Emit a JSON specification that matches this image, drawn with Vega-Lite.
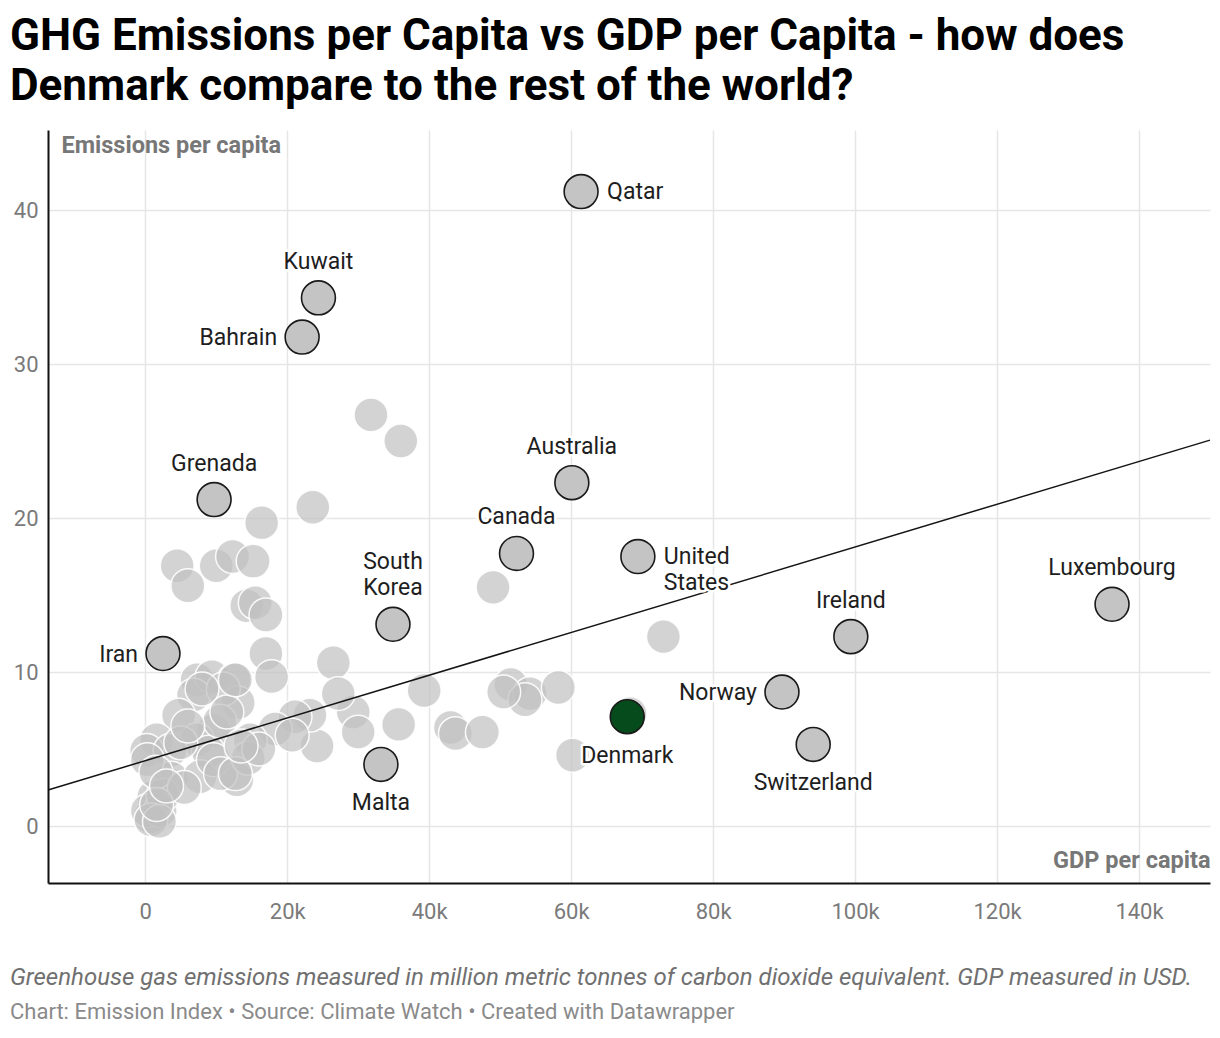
{
  "$schema": "https://vega.github.io/schema/vega-lite/v6.json",
  "background": "white",
  "padding": {"left": 10, "top": 15, "right": 10, "bottom": 0},
  "title": {
    "text": ["GHG Emissions per Capita vs GDP per Capita - how does", "Denmark compare to the rest of the world?"],
    "anchor": "start",
    "font": "Roboto",
    "fontSize": 44,
    "fontWeight": "bold",
    "color": "#000000",
    "lineHeight": 50,
    "offset": 21
  },
  "datasets": {
    "points": [
      {"country": "Qatar", "gdp": 61400, "em": 41.2},
      {"country": "Kuwait", "gdp": 24400, "em": 34.3},
      {"country": "Bahrain", "gdp": 22100, "em": 31.75},
      {"country": "Grenada", "gdp": 9700, "em": 21.2},
      {"country": "Australia", "gdp": 60100, "em": 22.3},
      {"country": "Canada", "gdp": 52300, "em": 17.7},
      {"country": "United\nStates", "gdp": 69400, "em": 17.5},
      {"country": "South\nKorea", "gdp": 34900, "em": 13.1},
      {"country": "Iran", "gdp": 2500, "em": 11.2},
      {"country": "Luxembourg", "gdp": 136200, "em": 14.4},
      {"country": "Ireland", "gdp": 99400, "em": 12.3},
      {"country": "Norway", "gdp": 89700, "em": 8.7},
      {"country": "Switzerland", "gdp": 94100, "em": 5.3},
      {"country": "Denmark", "gdp": 67900, "em": 7.1},
      {"country": "Malta", "gdp": 33200, "em": 4.0},
      {"gdp": 31800, "em": 26.7},
      {"gdp": 36000, "em": 25.0},
      {"gdp": 23600, "em": 20.7},
      {"gdp": 16400, "em": 19.7},
      {"gdp": 4500, "em": 16.9},
      {"gdp": 6000, "em": 15.6},
      {"gdp": 10000, "em": 16.9},
      {"gdp": 12300, "em": 17.5},
      {"gdp": 15200, "em": 17.2},
      {"gdp": 14300, "em": 14.3},
      {"gdp": 15500, "em": 14.5},
      {"gdp": 17000, "em": 13.7},
      {"gdp": 17000, "em": 11.2},
      {"gdp": 17800, "em": 9.7},
      {"gdp": 26500, "em": 10.6},
      {"gdp": 49000, "em": 15.5},
      {"gdp": 73000, "em": 12.3},
      {"gdp": 39300, "em": 8.8},
      {"gdp": 51500, "em": 9.2},
      {"gdp": 54200, "em": 8.6},
      {"gdp": 53500, "em": 8.2},
      {"gdp": 58200, "em": 9.0},
      {"gdp": 50500, "em": 8.7},
      {"gdp": 43000, "em": 6.4},
      {"gdp": 43700, "em": 6.0},
      {"gdp": 47500, "em": 6.1},
      {"gdp": 60200, "em": 4.6},
      {"gdp": 68300, "em": 7.3},
      {"gdp": 35700, "em": 6.6},
      {"gdp": 29300, "em": 7.4},
      {"gdp": 27200, "em": 8.6},
      {"gdp": 30000, "em": 6.1},
      {"gdp": 24200, "em": 5.2},
      {"gdp": 23200, "em": 7.2},
      {"gdp": 21100, "em": 7.1},
      {"gdp": 18300, "em": 6.3},
      {"gdp": 20700, "em": 5.9},
      {"gdp": 7300, "em": 9.5},
      {"gdp": 9400, "em": 9.7},
      {"gdp": 12500, "em": 9.5},
      {"gdp": 6800, "em": 8.5},
      {"gdp": 13100, "em": 8.0},
      {"gdp": 4700, "em": 7.2},
      {"gdp": 9600, "em": 6.2},
      {"gdp": 7300, "em": 5.6},
      {"gdp": 1600, "em": 5.6},
      {"gdp": 200, "em": 4.9},
      {"gdp": 3500, "em": 4.9},
      {"gdp": 14800, "em": 5.6},
      {"gdp": 8900, "em": 4.8},
      {"gdp": 3700, "em": 3.1},
      {"gdp": 7700, "em": 3.2},
      {"gdp": 12900, "em": 3.0},
      {"gdp": 1200, "em": 1.9},
      {"gdp": 700, "em": 0.6},
      {"gdp": 300, "em": 1.0},
      {"gdp": 2100, "em": 1.0},
      {"gdp": 9600, "em": 4.3},
      {"gdp": 10600, "em": 3.4},
      {"gdp": 300, "em": 4.3},
      {"gdp": 14500, "em": 4.4},
      {"gdp": 12700, "em": 3.4},
      {"gdp": 5000, "em": 5.4},
      {"gdp": 11000, "em": 8.9},
      {"gdp": 8000, "em": 8.9},
      {"gdp": 10500, "em": 6.8},
      {"gdp": 2500, "em": 2.0},
      {"gdp": 1500, "em": 3.5},
      {"gdp": 5500, "em": 2.5},
      {"gdp": 11500, "em": 7.4},
      {"gdp": 6000, "em": 6.5},
      {"gdp": 16000, "em": 5.0},
      {"gdp": 13500, "em": 5.2},
      {"gdp": 800, "em": 0.4},
      {"gdp": 2000, "em": 0.3},
      {"gdp": 1600, "em": 1.4},
      {"gdp": 3000, "em": 2.6},
      {"gdp": 12700, "em": 9.5}
    ],
    "trend": [
      {"gdp": -13700, "em": 2.34},
      {"gdp": 150000, "em": 25.06}
    ]
  },
  "vconcat": [
    {
      "width": 1162,
      "height": 753,
      "title": {
        "text": "Greenhouse gas emissions measured in million metric tonnes of carbon dioxide equivalent. GDP measured in USD.",
        "subtitle": "Chart: Emission Index • Source: Climate Watch • Created with Datawrapper",
        "orient": "bottom",
        "anchor": "start",
        "font": "Roboto",
        "fontSize": 24,
        "fontStyle": "italic",
        "fontWeight": "normal",
        "color": "#707070",
        "subtitleFont": "Roboto",
        "subtitleFontSize": 22,
        "subtitleColor": "#8a8a8a",
        "subtitlePadding": 12,
        "offset": 44
      },
      "data": {"name": "points"},
      "encoding": {
        "x": {
          "field": "gdp",
          "type": "quantitative",
          "scale": {"domain": [-13700, 150000], "nice": false, "zero": false},
          "axis": {
            "title": "GDP per capita",
            "values": [0, 20000, 40000, 60000, 80000, 100000, 120000, 140000],
            "labelExpr": "datum.value == 0 ? '0' : (datum.value / 1000) + 'k'",
            "titleAngle": 0,
            "titleAlign": "right",
            "titleBaseline": "alphabetic",
            "titleX": 1162,
            "titleY": -16
          }
        },
        "y": {
          "field": "em",
          "type": "quantitative",
          "scale": {"domain": [-3.7, 45.2], "nice": false, "zero": false},
          "axis": {
            "title": "Emissions per capita",
            "values": [0, 10, 20, 30, 40],
            "titleAngle": 0,
            "titleAlign": "left",
            "titleBaseline": "alphabetic",
            "titleX": 13,
            "titleY": 22,
            "minExtent": 38,
            "maxExtent": 38
          }
        }
      },
      "layer": [
        {
          "transform": [{"filter": "!isValid(datum.country)"}],
          "mark": {"type": "circle", "size": 1150, "fill": "#c0c0c0", "fillOpacity": 0.7, "stroke": "#ffffff", "strokeWidth": 1.5, "strokeOpacity": 0.9}
        },
        {
          "data": {"name": "trend"},
          "mark": {"type": "line", "color": "#141414", "strokeWidth": 1.5}
        },
        {
          "transform": [{"filter": "isValid(datum.country)"}],
          "mark": {"type": "circle", "size": 1150, "opacity": 1, "stroke": "#1a1a1a", "strokeWidth": 1.6},
          "encoding": {
            "fill": {
              "condition": {"test": "datum.country == 'Denmark'", "value": "#064b1c"},
              "value": "#c4c4c4"
            }
          }
        },
        {
          "transform": [{"filter": {"field": "country", "oneOf": ["Kuwait", "Grenada", "Australia", "Canada", "Luxembourg", "Ireland"]}}],
          "encoding": {"text": {"field": "country"}},
          "layer": [
            {"mark": {"type": "text", "font": "Roboto", "fontSize": 23, "align": "center", "baseline": "bottom", "dy": -24, "fill": "#ffffff", "stroke": "#ffffff", "strokeWidth": 5, "strokeJoin": "round"}},
            {"mark": {"type": "text", "font": "Roboto", "fontSize": 23, "align": "center", "baseline": "bottom", "dy": -24, "fill": "#1e1e1e"}}
          ]
        },
        {
          "transform": [{"filter": {"field": "country", "equal": "South\nKorea"}}],
          "encoding": {"text": {"field": "country"}},
          "layer": [
            {"mark": {"type": "text", "font": "Roboto", "fontSize": 23, "lineHeight": 26, "lineBreak": "\n", "align": "center", "baseline": "bottom", "dy": -50, "fill": "#ffffff", "stroke": "#ffffff", "strokeWidth": 5, "strokeJoin": "round"}},
            {"mark": {"type": "text", "font": "Roboto", "fontSize": 23, "lineHeight": 26, "lineBreak": "\n", "align": "center", "baseline": "bottom", "dy": -50, "fill": "#1e1e1e"}}
          ]
        },
        {
          "transform": [{"filter": {"field": "country", "oneOf": ["Switzerland", "Denmark", "Malta"]}}],
          "encoding": {"text": {"field": "country"}},
          "layer": [
            {"mark": {"type": "text", "font": "Roboto", "fontSize": 23, "align": "center", "baseline": "top", "dy": 28, "fill": "#ffffff", "stroke": "#ffffff", "strokeWidth": 5, "strokeJoin": "round"}},
            {"mark": {"type": "text", "font": "Roboto", "fontSize": 23, "align": "center", "baseline": "top", "dy": 28, "fill": "#1e1e1e"}}
          ]
        },
        {
          "transform": [{"filter": {"field": "country", "oneOf": ["Bahrain", "Iran", "Norway"]}}],
          "encoding": {"text": {"field": "country"}},
          "layer": [
            {"mark": {"type": "text", "font": "Roboto", "fontSize": 23, "align": "right", "baseline": "middle", "dx": -25, "dy": 1, "fill": "#ffffff", "stroke": "#ffffff", "strokeWidth": 5, "strokeJoin": "round"}},
            {"mark": {"type": "text", "font": "Roboto", "fontSize": 23, "align": "right", "baseline": "middle", "dx": -25, "dy": 1, "fill": "#1e1e1e"}}
          ]
        },
        {
          "transform": [{"filter": {"field": "country", "oneOf": ["Qatar", "United\nStates"]}}],
          "encoding": {"text": {"field": "country"}},
          "layer": [
            {"mark": {"type": "text", "font": "Roboto", "fontSize": 23, "lineHeight": 26, "lineBreak": "\n", "align": "left", "baseline": "top", "dx": 26, "dy": -11, "fill": "#ffffff", "stroke": "#ffffff", "strokeWidth": 5, "strokeJoin": "round"}},
            {"mark": {"type": "text", "font": "Roboto", "fontSize": 23, "lineHeight": 26, "lineBreak": "\n", "align": "left", "baseline": "top", "dx": 26, "dy": -11, "fill": "#1e1e1e"}}
          ]
        }
      ]
    }
  ],
  "config": {
    "view": {"stroke": null},
    "axis": {
      "labelFont": "Roboto",
      "labelFontSize": 22,
      "labelColor": "#7a7a7a",
      "titleFont": "Roboto",
      "titleFontSize": 23.5,
      "titleFontWeight": "bold",
      "titleColor": "#777777",
      "domainColor": "#111111",
      "domainWidth": 2,
      "ticks": false,
      "tickSize": 0,
      "grid": true,
      "gridColor": "#e6e6e6",
      "gridWidth": 1.5
    },
    "axisX": {"labelPadding": 18},
    "axisY": {"labelPadding": 10}
  }
}
